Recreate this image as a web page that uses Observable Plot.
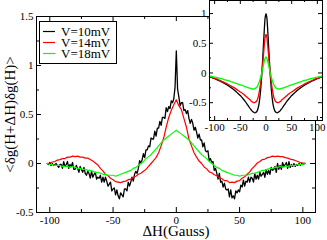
<!DOCTYPE html>
<html><head><meta charset="utf-8">
<script src="https://cdn.jsdelivr.net/npm/d3@7"></script>
<script src="https://cdn.jsdelivr.net/npm/@observablehq/plot@0.6"></script>
<style>
html,body{margin:0;padding:0;background:#fff;}
#chart{position:relative;width:327px;height:240px;}
#chart svg{position:absolute;}
</style></head><body>
<div id="chart"></div>
<script>
// ---------- DATA ----------
const seriesNames = ["V=10mV", "V=14mV", "V=18mV"];
const seriesColors = ["#000000", "#ff0000", "#00ff00"];

// main panel: black sampled every 1 G, red/green every 2 G from -102 to 102
const hBlack = d3.range(-102, 103, 1);
const vBlack = [
 0.00,-0.01,0.01,-0.02,0.00,-0.02,-0.01,0.00,-0.02,-0.04,
 -0.01,-0.01,-0.05,0.02,-0.03,-0.01,0.02,-0.05,-0.01,-0.03,
 0.01,-0.06,-0.06,-0.02,-0.05,-0.09,-0.03,-0.06,-0.09,-0.04,
 -0.10,-0.12,-0.08,-0.10,-0.15,-0.08,-0.14,-0.11,-0.09,-0.16,
 -0.14,-0.15,-0.12,-0.19,-0.14,-0.19,-0.14,-0.18,-0.23,-0.21,
 -0.19,-0.28,-0.26,-0.25,-0.32,-0.27,-0.33,-0.36,-0.30,-0.32,
 -0.34,-0.26,-0.26,-0.28,-0.19,-0.23,-0.19,-0.14,-0.18,-0.11,
 -0.08,-0.10,-0.05,0.03,0.00,0.04,0.10,0.06,0.14,0.14,
 0.18,0.17,0.26,0.25,0.25,0.33,0.28,0.36,0.36,0.43,
 0.39,0.47,0.47,0.46,0.57,0.53,0.58,0.56,0.64,0.62,0.66,0.78,
 1.15,
 0.76,0.68,0.59,0.62,0.62,0.54,0.55,0.51,0.54,0.46,
 0.41,0.45,0.41,0.34,0.37,0.32,0.26,0.30,0.24,0.24,
 0.17,0.21,0.13,0.12,0.13,0.03,0.05,0.01,0.02,-0.07,
 -0.05,-0.10,-0.16,-0.10,-0.19,-0.18,-0.24,-0.20,-0.26,-0.27,
 -0.26,-0.34,-0.27,-0.35,-0.33,-0.36,-0.28,-0.30,-0.27,-0.29,
 -0.22,-0.24,-0.17,-0.23,-0.18,-0.19,-0.14,-0.19,-0.14,-0.15,
 -0.19,-0.10,-0.16,-0.12,-0.16,-0.09,-0.13,-0.11,-0.09,-0.14,
 -0.06,-0.11,-0.07,-0.11,-0.04,-0.07,-0.06,-0.03,-0.09,0.00,
 -0.06,-0.02,-0.06,0.01,-0.03,-0.01,0.01,-0.05,0.02,-0.04,
 -0.01,-0.03,0.00,-0.03,-0.01,-0.02,0.00,-0.02,0.00,-0.01,
 0.00,0.00
];
const hColor = d3.range(-102, 103, 2);
const vRed = [
 0.00,0.005,0.015,0.02,0.035,0.04,0.05,0.05,0.065,0.065,
 0.075,0.07,0.075,0.065,0.065,0.055,0.055,0.04,0.025,0.005,
 -0.015,-0.05,-0.075,-0.11,-0.125,-0.15,-0.165,-0.185,-0.19,-0.195,
 -0.185,-0.18,-0.165,-0.16,-0.14,-0.13,-0.11,-0.10,-0.08,-0.06,
 -0.03,0.00,0.03,0.06,0.11,0.18,0.26,0.37,0.47,0.54,0.60,
 0.65,
 0.59,0.55,0.46,0.37,0.25,0.18,0.11,0.065,0.025,0.00,
 -0.035,-0.055,-0.085,-0.095,-0.115,-0.125,-0.145,-0.155,-0.175,-0.175,
 -0.195,-0.19,-0.195,-0.18,-0.175,-0.15,-0.135,-0.11,-0.085,-0.05,
 -0.025,0.005,0.02,0.04,0.045,0.06,0.065,0.075,0.07,0.075,
 0.07,0.07,0.06,0.055,0.045,0.04,0.03,0.02,0.01,0.005,0.00
];
const vGreen = [
 0.00,-0.01,-0.01,-0.02,-0.02,-0.02,-0.03,-0.03,-0.03,-0.04,
 -0.03,-0.04,-0.05,-0.05,-0.06,-0.06,-0.07,-0.07,-0.08,-0.09,
 -0.09,-0.10,-0.11,-0.11,-0.12,-0.12,-0.12,-0.13,-0.12,-0.11,
 -0.10,-0.09,-0.08,-0.07,-0.05,-0.04,-0.02,0.00,0.02,0.05,
 0.07,0.09,0.12,0.15,0.18,0.21,0.24,0.26,0.28,0.30,0.32,
 0.34,
 0.32,0.30,0.28,0.26,0.24,0.21,0.18,0.15,0.12,0.09,
 0.07,0.05,0.02,0.00,-0.02,-0.04,-0.05,-0.07,-0.08,-0.09,
 -0.10,-0.11,-0.12,-0.12,-0.13,-0.12,-0.12,-0.12,-0.11,-0.10,
 -0.10,-0.09,-0.08,-0.07,-0.07,-0.06,-0.05,-0.05,-0.04,-0.04,
 -0.03,-0.04,-0.03,-0.03,-0.02,-0.02,-0.02,-0.01,-0.01,-0.01,0.00
];

// inset panel
const hInset = [-110,-105,-100,-95,-90,-85,-80,-75,-70,-65,-60,-55,-50,-46,-42,-38,-34,-30,
 -28,-26,-24,-22,-20,-18,-16,-14,-12,-10,-8,-6,-4,-2,0,2,4,6,8,10,12,14,16,18,20,22,24,26,28,
 30,34,38,42,46,50,55,60,65,70,75,80,85,90,95,100,105,110];
const vInsetBlack = [
 -0.065,-0.08,-0.095,-0.115,-0.135,-0.155,-0.18,-0.205,-0.235,-0.265,-0.30,-0.34,-0.38,-0.42,-0.46,-0.51,-0.56,-0.61,
 -0.63,-0.65,-0.66,-0.67,-0.665,-0.65,-0.61,-0.54,-0.42,-0.24,0.00,0.30,0.62,0.90,
 1.00,
 0.90,0.62,0.30,0.00,-0.24,-0.42,-0.54,-0.61,-0.65,-0.665,-0.67,-0.66,-0.65,-0.63,
 -0.61,-0.56,-0.51,-0.46,-0.42,-0.38,-0.34,-0.30,-0.265,-0.235,-0.205,-0.18,-0.155,-0.135,-0.115,-0.095,-0.08,-0.065
];
const vInsetRed = [
 -0.06,-0.075,-0.09,-0.105,-0.125,-0.145,-0.165,-0.185,-0.21,-0.235,-0.26,-0.29,-0.32,-0.34,-0.37,-0.40,-0.43,-0.46,
 -0.48,-0.49,-0.50,-0.50,-0.49,-0.47,-0.43,-0.36,-0.26,-0.13,0.02,0.19,0.40,0.58,
 0.65,
 0.58,0.40,0.19,0.02,-0.13,-0.26,-0.36,-0.43,-0.47,-0.49,-0.50,-0.50,-0.49,-0.48,
 -0.46,-0.43,-0.40,-0.37,-0.34,-0.32,-0.29,-0.26,-0.235,-0.21,-0.185,-0.165,-0.145,-0.125,-0.105,-0.09,-0.075,-0.06
];
const vInsetGreen = [
 -0.05,-0.06,-0.07,-0.08,-0.09,-0.10,-0.115,-0.125,-0.14,-0.155,-0.17,-0.185,-0.20,-0.21,-0.225,-0.24,-0.25,-0.26,
 -0.265,-0.27,-0.27,-0.265,-0.255,-0.24,-0.21,-0.17,-0.12,-0.06,0.01,0.09,0.17,0.24,
 0.27,
 0.24,0.17,0.09,0.01,-0.06,-0.12,-0.17,-0.21,-0.24,-0.255,-0.265,-0.27,-0.27,-0.265,
 -0.26,-0.25,-0.24,-0.225,-0.21,-0.20,-0.185,-0.17,-0.155,-0.14,-0.125,-0.115,-0.10,-0.09,-0.08,-0.07,-0.06,-0.05
];

const mainXMajor = [-100,-50,0,50,100], mainXMinor = [-75,-25,25,75];
const mainYMajor = [-0.5,0,0.5,1,1.5], mainYMinor = [-0.25,0.25,0.75,1.25];
const insetXMajor = [-100,-50,0,50,100], insetXMinor = [-75,-25,25,75];
const insetYMajor = [-0.5,0,0.5,1], insetYMinor = [-0.75,-0.25,0.25,0.75];
const xTitle = "ΔH(Gauss)";
const yTitle = "<δg(H+ΔH)δg(H)>";

// ---------- HELPERS ----------
const FONT = "'Liberation Serif','Times New Roman',serif";
const rows = (hs, vs) => hs.map((h, i) => ({h, v: vs[i]}));
function frameTicks(xMaj, xMin, yMaj, yMin, fw, fh, maj, min) {
  return [
    Plot.tickX(xMaj, {x: d => d, insetTop: fh - maj}),
    Plot.tickX(xMaj, {x: d => d, insetBottom: fh - maj}),
    Plot.tickX(xMin, {x: d => d, insetTop: fh - min}),
    Plot.tickX(xMin, {x: d => d, insetBottom: fh - min}),
    Plot.tickY(yMaj, {y: d => d, insetRight: fw - maj}),
    Plot.tickY(yMaj, {y: d => d, insetLeft: fw - maj}),
    Plot.tickY(yMin, {y: d => d, insetRight: fw - min}),
    Plot.tickY(yMin, {y: d => d, insetLeft: fw - min})
  ];
}

// ---------- MAIN ----------
const W = 327, H = 240, mL = 36, mR = 12, mT = 16, mB = 28;
const fw = W - mL - mR, fh = H - mT - mB;
const mainSeries = [rows(hBlack, vBlack), rows(hColor, vRed), rows(hColor, vGreen)];
const mainWidths = [1.3, 1.2, 1.2];

const main = Plot.plot({
  width: W, height: H, marginLeft: mL, marginRight: mR, marginTop: mT, marginBottom: mB,
  style: {fontFamily: FONT, fontSize: "11px", background: "white", color: "black"},
  x: {domain: [-110.5, 110]},
  y: {domain: [-0.5, 1.5]},
  marks: [
    ...mainSeries.map((d, i) => Plot.line(d, {x: "h", y: "v", stroke: seriesColors[i], strokeWidth: mainWidths[i]})),
    Plot.frame({stroke: "black"}),
    ...frameTicks(mainXMajor, mainXMinor, mainYMajor, mainYMinor, fw, fh, 5, 3),
    Plot.axisX(mainXMajor, {tickSize: 0, tickPadding: 4, tickFormat: d => String(d), label: null, fontSize: 11}),
    Plot.axisY(mainYMajor, {tickSize: 0, tickPadding: 3, tickFormat: d => String(d), label: null, fontSize: 11}),
    Plot.text([xTitle], {text: d => d, frameAnchor: "bottom", lineAnchor: "middle", textAnchor: "middle", dy: 18.5, fontSize: 15}),
    Plot.text([yTitle], {text: d => d, frameAnchor: "left", lineAnchor: "middle", textAnchor: "middle", dx: -26, rotate: -90, fontSize: 15})
  ]
});
main.style.left = "0px"; main.style.top = "0px";
document.getElementById("chart").appendChild(main);

// legend
const lg = d3.select(main).append("g").attr("font-family", FONT).attr("font-size", 13).attr("text-anchor", "start");
lg.append("rect").attr("x", 39.5).attr("y", 21.5).attr("width", 77).attr("height", 42)
  .attr("fill", "white").attr("stroke", "black");
seriesNames.forEach((name, i) => {
  const y = 31.5 + i * 11;
  lg.append("line").attr("x1", 43).attr("x2", 55).attr("y1", y).attr("y2", y)
    .attr("stroke", seriesColors[i]).attr("stroke-width", 1.2);
  lg.append("text").attr("x", 61).attr("y", y + 4.5).attr("fill", "black").attr("text-anchor", "start").text(name);
});

// ---------- INSET ----------
const iW = 148, iH = 136, imL = 30, imR = 5, imT = 0, imB = 16;
const ifw = iW - imL - imR, ifh = iH - imT - imB;
const insetSeries = [rows(hInset, vInsetBlack), rows(hInset, vInsetRed), rows(hInset, vInsetGreen)];
const inset = Plot.plot({
  width: iW, height: iH, marginLeft: imL, marginRight: imR, marginTop: imT, marginBottom: imB,
  style: {fontFamily: FONT, fontSize: "11px", background: "transparent", color: "black", overflow: "visible"},
  x: {domain: [-110, 110]},
  y: {domain: [-0.8, 1.22]},
  marks: [
    Plot.frame({fill: "white"}),
    ...insetSeries.map((d, i) => Plot.line(d, {x: "h", y: "v", stroke: seriesColors[i], strokeWidth: 1.3, curve: "monotone-x"})),
    Plot.frame({stroke: "black"}),
    ...frameTicks(insetXMajor, insetXMinor, insetYMajor, insetYMinor, ifw, ifh, 4, 2),
    Plot.axisX(insetXMajor, {tickSize: 0, tickPadding: 3, tickFormat: d => String(d), label: null, fontSize: 11}),
    Plot.axisY(insetYMajor, {tickSize: 0, tickPadding: 3, tickFormat: d => String(d), label: null, fontSize: 11})
  ]
});
inset.style.left = "179px"; inset.style.top = "0px";
document.getElementById("chart").appendChild(inset);
</script></body></html>
